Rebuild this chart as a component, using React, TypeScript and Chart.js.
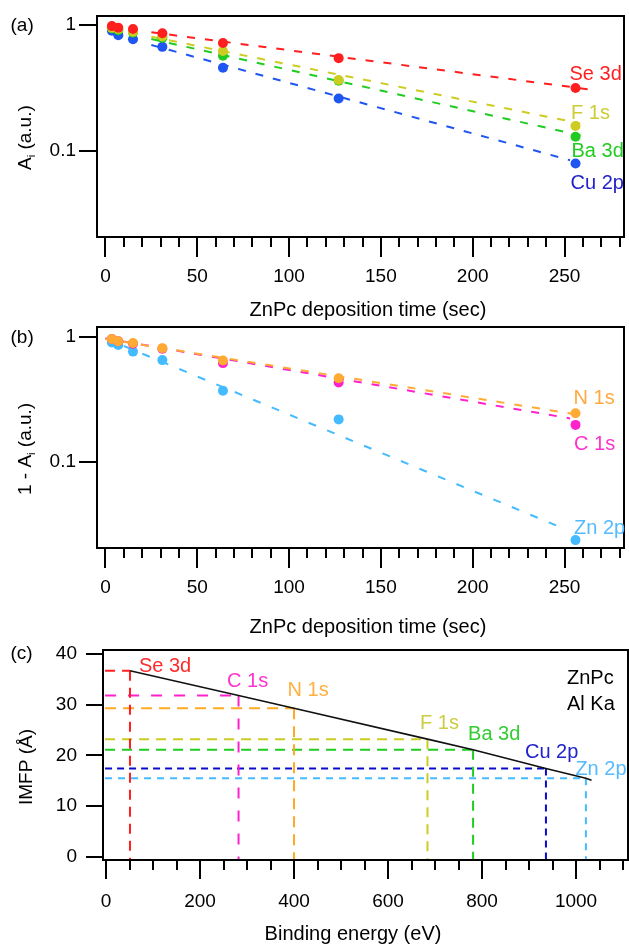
import React, { useEffect, useRef } from "react";
import { Chart, registerables } from "chart.js";

Chart.register(...registerables);

const FONT = '"Liberation Sans", Arial, Helvetica, sans-serif';

// ---------------- Panel (a) data ----------------
const depositionTimes = [3.5, 7, 15, 31, 64, 127, 256];
const se3dA = [0.98, 0.95, 0.93, 0.86, 0.72, 0.545, 0.315];
const f1sA = [0.95, 0.93, 0.885, 0.81, 0.62, 0.365, 0.157];
const ba3dA = [0.94, 0.91, 0.87, 0.79, 0.57, 0.36, 0.129];
const cu2pA = [0.9, 0.83, 0.77, 0.67, 0.457, 0.26, 0.079];
// exponential fits (end points of the dashed lines)
const se3dFitT = [25, 263];
const se3dFitA = [0.875, 0.308];
const f1sFitT = [25, 258.5];
const f1sFitA = [0.807, 0.165];
const ba3dFitT = [25, 263];
const ba3dFitA = [0.774, 0.128];
const cu2pFitT = [25, 253];
const cu2pFitA = [0.693, 0.084];

// ---------------- Panel (b) data ----------------
const n1sB = [0.96, 0.92, 0.89, 0.81, 0.645, 0.465, 0.244];
const c1sB = [0.96, 0.92, 0.88, 0.8, 0.615, 0.43, 0.197];
const zn2pB = [0.9, 0.86, 0.76, 0.65, 0.37, 0.218, 0.0236];
const n1sFitT = [0, 258];
const n1sFitA = [0.96, 0.237];
const c1sFitT = [0, 253];
const c1sFitA = [0.97, 0.222];
const zn2pFitT = [0, 250];
const zn2pFitA = [0.97, 0.029];

// ---------------- Panel (c) data ----------------
const coreLevels = ["Se 3d", "C 1s", "N 1s", "F 1s", "Ba 3d", "Cu 2p", "Zn 2p"];
const bindingEnergies = [51, 282, 400, 684, 781, 936, 1021];
const imfpValues = [36.7, 31.8, 29.3, 23.2, 21.1, 17.4, 15.5];
const imfpCurveE = [51, 282, 400, 684, 781, 936, 1021, 1033];
const imfpCurveL = [36.7, 31.8, 29.3, 23.2, 21.1, 17.4, 15.5, 15.1];
const guideStartE = -2;

// ---------------- axis ranges / ticks ----------------
const xTimeTicks = [0, 50, 100, 150, 200, 250];
const yLogTickLabels = ["1", "0.1"];
const xEnergyTicks = [0, 200, 400, 600, 800, 1000];
const yImfpTicks = [0, 10, 20, 30, 40];

const T_MIN = -4.6;
const T_MAX = 282.4;
const A_MIN = 0.02058;
const A_MAX = 1.179;
const B_MIN = 0.0204;
const B_MAX = 1.196;
const E_MIN = -6.4;
const E_MAX = 1110.6;
const L_MIN = -0.65;
const L_MAX = 40.79;

// ---------------- styles ----------------
const C = {
  red: "#ff1f1f",
  olive: "#cccc22",
  green: "#1fcc1f",
  blue: "#1f55f0",
  orange: "#ffaa33",
  pink: "#ff22cc",
  sky: "#44bbff",
  navy: "#0a0acc",
};

const pts = (xs: number[], ys: number[]) => xs.map((x, i) => ({ x, y: ys[i] }));

function pointSet(data: { x: number; y: number }[], color: string) {
  return {
    data,
    showLine: false,
    pointRadius: 5,
    pointBorderWidth: 0,
    pointBackgroundColor: color,
    backgroundColor: color,
    borderColor: color,
    order: 0,
  };
}

function lineSet(
  data: { x: number; y: number }[],
  color: string,
  dash: number[],
  width = 2,
  order = 1
) {
  return {
    data,
    showLine: true,
    pointRadius: 0,
    borderColor: color,
    borderWidth: width,
    borderDash: dash,
    backgroundColor: color,
    fill: false,
    order,
  };
}

type Deco = {
  panelLabel: string;
  panelLabelPos: [number, number];
  xTitle: string;
  xTitlePos: [number, number];
  yTitle: { text: string; sub?: boolean }[];
  yTitlePos: [number, number];
  xTickFrom: number;
  xTickTo: number;
  xMinor: number;
  xMajor: number;
  xMajorLen: number;
  xMinorLen: number;
  yTicks: number[];
  yTickLen: number;
  labels: { text: string; color: string; x: number; y: number; dx: number; dy: number }[];
  cornerText?: { text: string; dx: number; dy: number }[];
};

function decoPlugin(d: Deco) {
  return {
    id: "deco",
    afterDraw(chart: any) {
      const { ctx, chartArea: a, scales } = chart;
      const xs = scales.x;
      const ys = scales.y;
      ctx.save();
      ctx.strokeStyle = "#000";
      ctx.lineWidth = 2;
      ctx.strokeRect(a.left, a.top, a.right - a.left, a.bottom - a.top);
      ctx.beginPath();
      const n = Math.round((d.xTickTo - d.xTickFrom) / d.xMinor);
      for (let k = 0; k <= n; k++) {
        const v = d.xTickFrom + k * d.xMinor;
        const px = Math.round(xs.getPixelForValue(v));
        const r = v / d.xMajor;
        const major = Math.abs(r - Math.round(r)) < 1e-9;
        ctx.moveTo(px, a.bottom);
        ctx.lineTo(px, a.bottom + (major ? d.xMajorLen : d.xMinorLen));
      }
      for (const v of d.yTicks) {
        const py = Math.round(ys.getPixelForValue(v));
        ctx.moveTo(a.left, py);
        ctx.lineTo(a.left - d.yTickLen, py);
      }
      ctx.stroke();

      ctx.fillStyle = "#000";
      ctx.font = `19px ${FONT}`;
      ctx.textBaseline = "alphabetic";
      ctx.textAlign = "left";
      ctx.fillText(d.panelLabel, d.panelLabelPos[0], d.panelLabelPos[1]);

      ctx.font = `20px ${FONT}`;
      ctx.textAlign = "center";
      ctx.fillText(d.xTitle, d.xTitlePos[0], d.xTitlePos[1]);

      // rotated y title
      ctx.save();
      ctx.translate(d.yTitlePos[0], d.yTitlePos[1]);
      ctx.rotate(-Math.PI / 2);
      ctx.textAlign = "left";
      let cx = 0;
      for (const part of d.yTitle) {
        ctx.font = part.sub ? `11px ${FONT}` : `19px ${FONT}`;
        ctx.fillText(part.text, cx, part.sub ? 4 : 0);
        cx += ctx.measureText(part.text).width;
      }
      ctx.restore();

      ctx.font = `20px ${FONT}`;
      ctx.textAlign = "left";
      ctx.textBaseline = "middle";
      for (const l of d.labels) {
        ctx.fillStyle = l.color;
        ctx.fillText(l.text, xs.getPixelForValue(l.x) + l.dx, ys.getPixelForValue(l.y) + l.dy);
      }
      if (d.cornerText) {
        ctx.fillStyle = "#000";
        for (const t of d.cornerText) {
          ctx.fillText(t.text, a.right + t.dx, a.top + t.dy);
        }
      }
      ctx.restore();
    },
  };
}

const tickFont = { size: 19, family: FONT };
const plainNum = (v: any) => String(v);

function baseOptions(pad: { top: number }, xH: number, yW: number, x: any, y: any) {
  return {
    animation: false,
    responsive: false,
    devicePixelRatio: 1,
    events: [],
    layout: { padding: { left: 0, top: pad.top, right: 1, bottom: 0 } },
    plugins: { legend: { display: false }, tooltip: { enabled: false }, title: { display: false } },
    scales: {
      x: {
        ...x,
        afterFit: (s: any) => {
          s.height = xH;
          s.paddingLeft = 0;
          s.paddingRight = 0;
        },
        grid: { display: false, drawTicks: false },
        border: { display: false },
      },
      y: {
        ...y,
        afterFit: (s: any) => {
          s.width = yW;
          s.paddingTop = 0;
          s.paddingBottom = 0;
        },
        grid: { display: false, drawTicks: false },
        border: { display: false },
      },
    },
  };
}

const logLabel = (v: number) => {
  const lg = Math.log10(v);
  if (Math.abs(lg - Math.round(lg)) < 1e-6) {
    const s = Math.round(lg) === 0 ? "1" : Math.round(lg) === -1 ? "0.1" : null;
    return s && yLogTickLabels.includes(s) ? s : null;
  }
  return null;
};

function timeAxis() {
  return {
    type: "linear",
    min: T_MIN,
    max: T_MAX,
    afterBuildTicks: (s: any) => {
      s.ticks = xTimeTicks.map((v) => ({ value: v }));
    },
    ticks: { font: tickFont, color: "#000", padding: 28, maxRotation: 0, autoSkip: false, callback: plainNum },
  };
}

function configA(): any {
  const datasets = [
    pointSet(pts(depositionTimes, se3dA), C.red),
    pointSet(pts(depositionTimes, f1sA), C.olive),
    pointSet(pts(depositionTimes, ba3dA), C.green),
    pointSet(pts(depositionTimes, cu2pA), C.blue),
    lineSet(pts(se3dFitT, se3dFitA), C.red, [8, 10]),
    lineSet(pts(f1sFitT, f1sFitA), C.olive, [8, 10]),
    lineSet(pts(ba3dFitT, ba3dFitA), C.green, [8, 10]),
    lineSet(pts(cu2pFitT, cu2pFitA), C.blue, [8, 10]),
  ];
  const last = depositionTimes.length - 1;
  return {
    type: "scatter",
    data: { datasets },
    options: baseOptions({ top: 16 }, 322 - 237, 97, timeAxis(), {
      type: "logarithmic",
      min: A_MIN,
      max: A_MAX,
      ticks: { font: tickFont, color: "#000", padding: 21, autoSkip: false, callback: logLabel },
    }),
    plugins: [
      decoPlugin({
        panelLabel: "(a)",
        panelLabelPos: [10.5, 31],
        xTitle: "ZnPc deposition time (sec)",
        xTitlePos: [368, 316],
        yTitle: [{ text: "A" }, { text: "i", sub: true }, { text: " (a.u.)" }],
        yTitlePos: [30.5, 170],
        xTickFrom: 0,
        xTickTo: 280,
        xMinor: 10,
        xMajor: 50,
        xMajorLen: 20,
        xMinorLen: 10,
        yTicks: [1, 0.1],
        yTickLen: 18,
        labels: [
          { text: "Se 3d", color: C.red, x: depositionTimes[last], y: se3dA[last], dx: -6, dy: -14 },
          { text: "F 1s", color: "#cccc33", x: depositionTimes[last], y: f1sA[last], dx: -4.5, dy: -13 },
          { text: "Ba 3d", color: "#22cc22", x: depositionTimes[last], y: ba3dA[last], dx: -4, dy: 15 },
          { text: "Cu 2p", color: "#2222cc", x: depositionTimes[last], y: cu2pA[last], dx: -5, dy: 20 },
        ],
      }),
    ],
  };
}

function configB(): any {
  const datasets = [
    pointSet(pts(depositionTimes, n1sB), C.orange),
    pointSet(pts(depositionTimes, c1sB), C.pink),
    pointSet(pts(depositionTimes, zn2pB), C.sky),
    lineSet(pts(n1sFitT, n1sFitA), C.orange, [8, 10]),
    lineSet(pts(c1sFitT, c1sFitA), C.pink, [8, 10]),
    lineSet(pts(zn2pFitT, zn2pFitA), C.sky, [8, 12]),
  ];
  const last = depositionTimes.length - 1;
  return {
    type: "scatter",
    data: { datasets },
    options: baseOptions({ top: 4.7 }, 318 - 226, 97, timeAxis(), {
      type: "logarithmic",
      min: B_MIN,
      max: B_MAX,
      ticks: { font: tickFont, color: "#000", padding: 21, autoSkip: false, callback: logLabel },
    }),
    plugins: [
      decoPlugin({
        panelLabel: "(b)",
        panelLabelPos: [10.5, 20.7],
        xTitle: "ZnPc deposition time (sec)",
        xTitlePos: [368, 310.7],
        yTitle: [{ text: "1 - A" }, { text: "i", sub: true }, { text: " (a.u.)" }],
        yTitlePos: [31, 173],
        xTickFrom: 0,
        xTickTo: 280,
        xMinor: 10,
        xMajor: 50,
        xMajorLen: 20,
        xMinorLen: 10,
        yTicks: [1, 0.1],
        yTickLen: 18,
        labels: [
          { text: "N 1s", color: "#ffaa40", x: depositionTimes[last], y: n1sB[last], dx: -2, dy: -15 },
          { text: "C 1s", color: "#ff33cc", x: depositionTimes[last], y: c1sB[last], dx: -1.5, dy: 20 },
          { text: "Zn 2p", color: "#55bbff", x: depositionTimes[last], y: zn2pB[last], dx: -1.5, dy: -12 },
        ],
      }),
    ],
  };
}

function configC(): any {
  const guideColors = [C.red, C.pink, "#ffaa22", C.olive, C.green, C.navy, C.sky];
  const labelColors = ["#ff2a2a", "#ff33cc", "#ffb040", "#cccc44", "#33cc33", "#2222cc", "#55bbff"];
  const guideDash = [[10, 7], [11, 12], [11, 7], [10, 7], [10, 7], [7, 5], [7, 6]];
  const labelOffsets = [
    [9, -4],
    [-11.5, -14],
    [-6.5, -18],
    [-7.5, -16],
    [-5, -15],
    [-21, -16],
    [-10.5, -9],
  ];
  const datasets: any[] = [lineSet(pts(imfpCurveE, imfpCurveL), "#111", [], 1.6, 0)];
  coreLevels.forEach((_, i) => {
    datasets.push(
      lineSet(
        [
          { x: guideStartE, y: imfpValues[i] },
          { x: bindingEnergies[i], y: imfpValues[i] },
        ],
        guideColors[i],
        guideDash[i]
      )
    );
    datasets.push(
      lineSet(
        [
          { x: bindingEnergies[i], y: imfpValues[i] },
          { x: bindingEnergies[i], y: L_MIN },
        ],
        guideColors[i],
        guideDash[i]
      )
    );
  });
  return {
    type: "scatter",
    data: { datasets },
    options: baseOptions(
      { top: 10 },
      304 - 220,
      103,
      {
        type: "linear",
        min: E_MIN,
        max: E_MAX,
        afterBuildTicks: (s: any) => {
          s.ticks = xEnergyTicks.map((v) => ({ value: v }));
        },
        ticks: { font: tickFont, color: "#000", padding: 30, maxRotation: 0, autoSkip: false, callback: plainNum },
      },
      {
        type: "linear",
        min: L_MIN,
        max: L_MAX,
        afterBuildTicks: (s: any) => {
          s.ticks = yImfpTicks.map((v) => ({ value: v }));
        },
        ticks: { font: tickFont, color: "#000", padding: 26, autoSkip: false, callback: plainNum },
      }
    ),
    plugins: [
      decoPlugin({
        panelLabel: "(c)",
        panelLabelPos: [10.5, 19.3],
        xTitle: "Binding energy (eV)",
        xTitlePos: [353, 300],
        yTitle: [{ text: "IMFP (Å)" }],
        yTitlePos: [31.5, 165],
        xTickFrom: 0,
        xTickTo: 1100,
        xMinor: 50,
        xMajor: 200,
        xMajorLen: 19,
        xMinorLen: 10,
        yTicks: yImfpTicks,
        yTickLen: 17,
        labels: coreLevels.map((t, i) => ({
          text: t,
          color: labelColors[i],
          x: bindingEnergies[i],
          y: imfpValues[i],
          dx: labelOffsets[i][0],
          dy: labelOffsets[i][1],
        })),
        cornerText: [
          { text: "ZnPc", dx: -61, dy: 28 },
          { text: "Al Ka", dx: -61, dy: 54 },
        ],
      }),
    ],
  };
}

export default function App() {
  const refA = useRef<HTMLCanvasElement>(null);
  const refB = useRef<HTMLCanvasElement>(null);
  const refC = useRef<HTMLCanvasElement>(null);

  useEffect(() => {
    const charts = [
      new Chart(refA.current as HTMLCanvasElement, configA()),
      new Chart(refB.current as HTMLCanvasElement, configB()),
      new Chart(refC.current as HTMLCanvasElement, configC()),
    ];
    return () => charts.forEach((c) => c.destroy());
  }, []);

  const cs: React.CSSProperties = { position: "absolute", left: 0, display: "block" };
  return (
    <div style={{ position: "absolute", left: 0, top: 0, width: 629, height: 944, background: "#fff", overflow: "hidden" }}>
      <canvas ref={refA} width={629} height={322} style={{ ...cs, top: 0, width: 629, height: 322 }} />
      <canvas ref={refB} width={629} height={318} style={{ ...cs, top: 322, width: 629, height: 318 }} />
      <canvas ref={refC} width={629} height={304} style={{ ...cs, top: 640, width: 629, height: 304 }} />
    </div>
  );
}
